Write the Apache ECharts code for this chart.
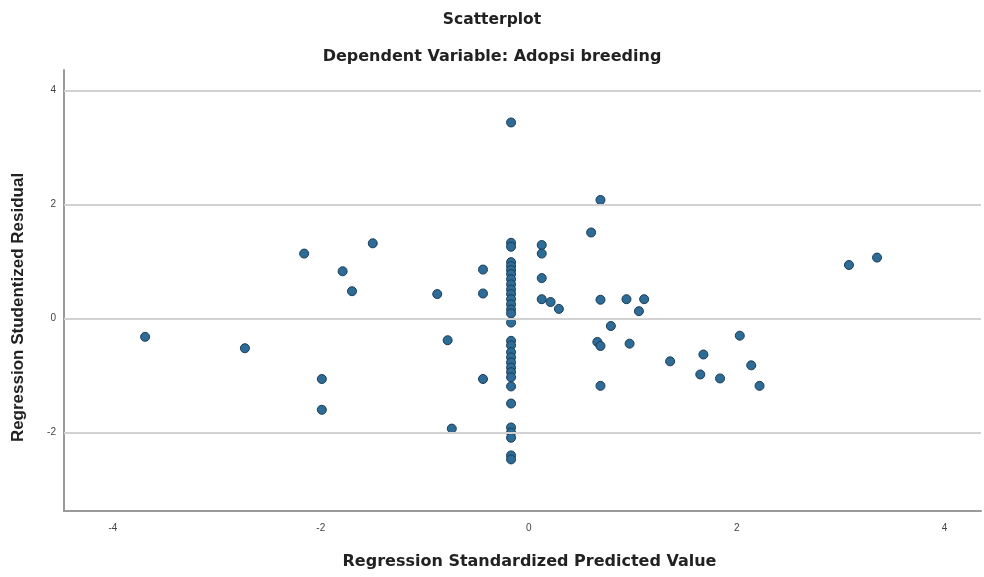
<!DOCTYPE html>
<html>
<head>
<meta charset="utf-8">
<script src="https://cdn.jsdelivr.net/npm/echarts@6/dist/echarts.min.js"></script>
<style>html,body{margin:0;padding:0;background:#fff;overflow:hidden;}#c{width:984px;height:577px;}</style>
</head>
<body>
<div id="c"></div>
<script>
var titleText = "Scatterplot";
var subtitleText = "Dependent Variable: Adopsi breeding";
var xAxisName = "Regression Standardized Predicted Value";
var yAxisName = "Regression Studentized Residual";
var xTicks = [-4, -2, 0, 2, 4];
var yTicks = [-2, 0, 2, 4];

var predicted = [
  -3.69, -2.73, -2.16, -1.79, -1.70, -1.50, -1.99, -1.99, -0.88, -0.78, -0.74, -0.44, -0.44, -0.44,
  -0.17, -0.17, -0.17, -0.17, -0.17, -0.17, -0.17, -0.17, -0.17, -0.17, -0.17, -0.17, -0.17, -0.17, -0.17, -0.17,
  -0.17, -0.17, -0.17, -0.17, -0.17, -0.17, -0.17, -0.17, -0.17, -0.17, -0.17, -0.17, -0.17, -0.17, -0.17,
  0.125, 0.125, 0.125, 0.125, 0.21, 0.29, 0.60, 0.69, 0.69, 0.94, 1.06, 1.11, 3.08, 3.35,
  0.79, 0.66, 0.69, 0.97, 1.36, 1.68, 2.03, 2.14, 1.65, 1.84, 2.22, 0.69
];
var residual = [
  -0.32, -0.52, 1.14, 0.83, 0.48, 1.32, -1.06, -1.60, 0.43, -0.38, -1.93, 0.86, 0.44, -1.06,
  3.44, 1.33, 1.26, 0.99, 0.92, 0.85, 0.78, 0.69, 0.60, 0.51, 0.43, 0.34, 0.25, 0.16, 0.09, -0.07,
  -0.39, -0.47, -0.59, -0.68, -0.77, -0.86, -0.94, -1.03, -1.19, -1.49, -1.91, -2.00, -2.09, -2.40, -2.47,
  1.29, 1.14, 0.71, 0.34, 0.29, 0.17, 1.51, 2.08, 0.33, 0.34, 0.13, 0.34, 0.94, 1.07,
  -0.13, -0.41, -0.48, -0.44, -0.75, -0.63, -0.30, -0.82, -0.98, -1.05, -1.18, -1.18
];

var points = predicted.map(function (x, i) { return [x, residual[i]]; });
function isTick(list, v) {
  for (var i = 0; i < list.length; i++) { if (Math.abs(list[i] - v) < 1e-6) return true; }
  return false;
}
var wideFont = 'DejaVu Sans, Verdana, sans-serif';
var baseFont = 'Liberation Sans, Arial, sans-serif';

var chart = echarts.init(document.getElementById('c'), null, {renderer: 'canvas'});
chart.setOption({
  animation: false,
  backgroundColor: '#ffffff',
  textStyle: {fontFamily: baseFont},
  title: [
    {text: titleText, left: 'center', top: 7, padding: [5, 0, 5, 6],
     textStyle: {fontSize: 15.5, fontWeight: 'bold', color: '#222', fontFamily: wideFont}},
    {text: subtitleText, left: 'center', top: 44, padding: [5, 0, 5, 6],
     textStyle: {fontSize: 16, fontWeight: 'bold', color: '#222', fontFamily: wideFont}}
  ],
  grid: {left: 64, right: 0, top: 70, bottom: 66, containLabel: false},
  xAxis: {
    type: 'value', min: -4.47, max: 4.35,
    name: xAxisName, nameLocation: 'middle', nameGap: 43,
    nameTextStyle: {fontSize: 16, fontWeight: 'bold', color: '#222', fontFamily: wideFont, padding: [0, 0, 0, 14]},
    axisLine: {show: true, onZero: false, lineStyle: {color: '#9a9a9a', width: 2}},
    axisTick: {show: false},
    splitLine: {show: false},
    axisLabel: {fontSize: 10, color: '#444', margin: 12,
      formatter: function (v) { return isTick(xTicks, v) ? String(v) : ''; }}
  },
  yAxis: {
    type: 'value', min: -3.375, max: 4.36,
    name: yAxisName, nameLocation: 'middle', nameGap: 37, nameRotate: 90,
    nameTextStyle: {fontSize: 17, fontWeight: 'bold', color: '#222', fontFamily: baseFont, padding: [0, 34, 0, 0]},
    axisLine: {show: true, onZero: false, lineStyle: {color: '#9a9a9a', width: 2}},
    axisTick: {show: false},
    splitLine: {show: false},
    axisLabel: {fontSize: 10, color: '#444', margin: 8,
      formatter: function (v) { return isTick(yTicks, v) ? String(v) : ''; }}
  },
  series: [
    {
      type: 'scatter', data: [], z: 1, silent: true,
      markLine: {
        silent: true, symbol: 'none', animation: false,
        label: {show: false},
        lineStyle: {color: '#d2d2d2', width: 2, type: 'solid'},
        data: yTicks.map(function (v) { return {yAxis: v}; })
      }
    },
    {
      type: 'scatter', data: points, z: 3,
      symbol: 'circle', symbolSize: 9,
      itemStyle: {color: '#2c6c97', borderColor: '#1b3c58', borderWidth: 1, opacity: 1}
    }
  ]
});
</script>
</body>
</html>
